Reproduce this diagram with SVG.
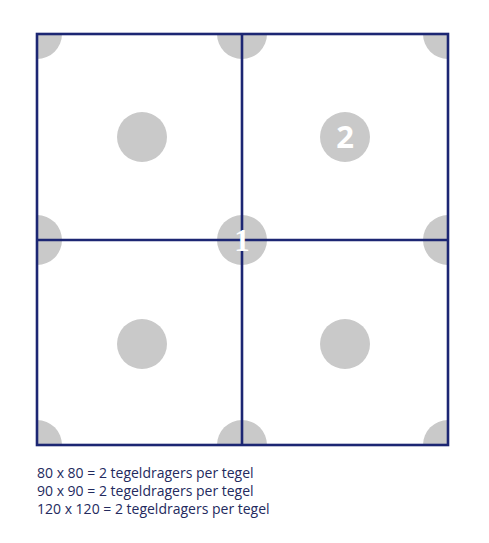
<svg xmlns="http://www.w3.org/2000/svg" width="489" height="543" viewBox="0 0 489 543">
<style>
.sup{fill:#c9c9c9}
.grid{fill:none;stroke:#1c2673;stroke-width:2.6}
.lbl{fill:#ffffff;font-family:"Open Sans","DejaVu Sans",sans-serif;font-weight:bold;text-anchor:middle}
.one{fill:#ffffff;font-family:"Liberation Serif",serif;font-weight:bold;text-anchor:middle}
.cap{fill:#232a5e;font-family:"Open Sans","DejaVu Sans",sans-serif;font-size:14px}
</style>
<defs>
<clipPath id="sq"><rect x="37" y="34" width="411" height="411"/></clipPath>
</defs>
<rect width="489" height="543" fill="#ffffff"/>
<g id="supports" clip-path="url(#sq)">
<circle class="sup" cx="37" cy="34" r="25"/>
<circle class="sup" cx="242" cy="34" r="25"/>
<circle class="sup" cx="448" cy="34" r="25"/>
<circle class="sup" cx="37" cy="240" r="25"/>
<circle class="sup" cx="448" cy="240" r="25"/>
<circle class="sup" cx="37" cy="445" r="25"/>
<circle class="sup" cx="242" cy="445" r="25"/>
<circle class="sup" cx="448" cy="445" r="25"/>
<circle class="sup" cx="142" cy="137" r="25"/>
<circle class="sup" cx="142" cy="344" r="25"/>
<circle class="sup" cx="345" cy="344" r="25"/>
</g>
<g id="node-2">
<circle class="sup" cx="345" cy="137" r="25"/>
<text class="lbl" x="345" y="148" font-size="31">2</text>
</g>
<g id="node-1">
<circle class="sup" cx="242" cy="240" r="25"/>
</g>
<g id="connectors">
<rect class="grid" x="37" y="34" width="411" height="411"/>
<line class="grid" x1="242" y1="34" x2="242" y2="445"/>
<line class="grid" x1="37" y1="240" x2="448" y2="240"/>
</g>
<text class="one" x="242" y="251" font-size="31">1</text>
<g id="caption">
<text class="cap" x="37" y="478">80 x 80 = 2 tegeldragers per tegel</text>
<text class="cap" x="37" y="496">90 x 90 = 2 tegeldragers per tegel</text>
<text class="cap" x="37" y="514">120 x 120 = 2 tegeldragers per tegel</text>
</g>
</svg>
